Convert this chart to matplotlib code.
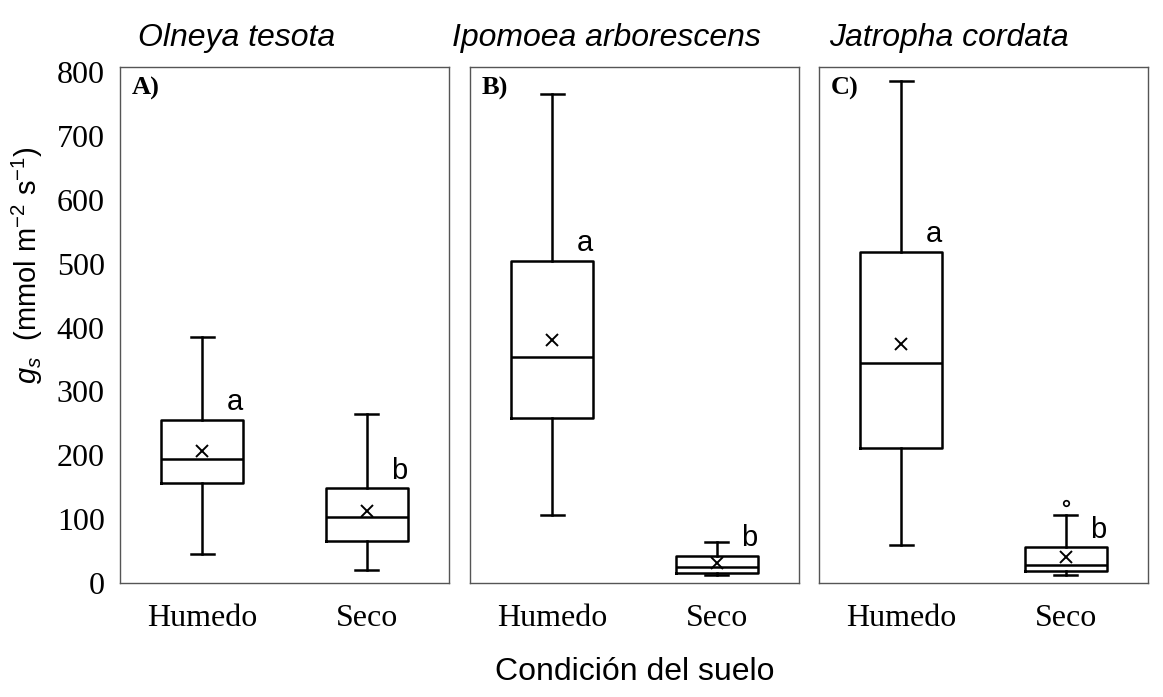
import matplotlib
matplotlib.use("Agg")
import matplotlib.pyplot as plt

plt.rcParams["mathtext.fontset"] = "custom"
plt.rcParams["mathtext.it"] = "Liberation Sans:italic"
plt.rcParams["mathtext.rm"] = "Liberation Sans"

# ---- data ----
species = ["Olneya tesota", "Ipomoea arborescens", "Jatropha cordata"]
panel_letters = ["A)", "B)", "C)"]
conditions = ["Humedo", "Seco"]

# per panel: [Humedo, Seco]
whislo = [[45, 20], [107, 13], [60, 13]]
q1 = [[157, 66], [259, 16], [211, 19]]
med = [[194, 104], [354, 25], [345, 28]]
mean = [[207, 113], [381, 31], [374, 41]]
q3 = [[255, 148], [505, 43], [518, 56]]
whishi = [[385, 265], [766, 64], [786, 106]]
fliers = [[[], []], [[], []], [[], [125]]]
letters = [["a", "b"], ["a", "b"], ["a", "b"]]

yticks = [0, 100, 200, 300, 400, 500, 600, 700, 800]

W, H = 1163, 697
fig = plt.figure(figsize=(W / 100, H / 100), dpi=100)

ax_left_px = [120, 470, 819]
ax_w_px = 329
top_px, bot_px = 67, 583
title_x_px = [138, 452, 829]

serif = "Liberation Serif"
sans = "Liberation Sans"

for i in range(3):
    ax = fig.add_axes([ax_left_px[i] / W, 1 - bot_px / H, ax_w_px / W, (bot_px - top_px) / H])
    stats = []
    for j in range(2):
        stats.append(dict(whislo=whislo[i][j], q1=q1[i][j], med=med[i][j],
                          q3=q3[i][j], whishi=whishi[i][j], mean=mean[i][j],
                          fliers=fliers[i][j], label=conditions[j]))
    lw = 1.8
    ax.bxp(stats, positions=[1, 2], widths=0.5, showmeans=True, showfliers=True,
           boxprops=dict(color="black", linewidth=lw),
           medianprops=dict(color="black", linewidth=lw),
           whiskerprops=dict(color="black", linewidth=lw),
           capprops=dict(color="black", linewidth=lw),
           capwidths=0.14,
           meanprops=dict(marker="x", markeredgecolor="black", markersize=8,
                          markeredgewidth=1.4, linestyle="none"),
           flierprops=dict(marker="o", markerfacecolor="none", markeredgecolor="black",
                           markersize=4, markeredgewidth=1.2))
    ax.set_xlim(0.5, 2.5)
    ax.set_ylim(0, 808)
    for s in ax.spines.values():
        s.set_color("#555555")
        s.set_linewidth(1.0)
    ax.tick_params(length=0, pad=12)
    ax.set_xticks([1, 2])
    ax.set_xticklabels(conditions, fontfamily=serif, fontsize=23)
    ax.tick_params(axis="x", pad=15)
    if i == 0:
        ax.set_yticks(yticks)
        ax.set_yticklabels([str(v) for v in yticks], fontfamily=serif, fontsize=23)
        ax.tick_params(axis="y", pad=11)
    else:
        ax.set_yticks([])
    # significance letters
    for j in range(2):
        ax.annotate(letters[i][j], xy=(j + 1 + 0.2, q3[i][j]), xytext=(0, 7),
                    textcoords="offset points", ha="center", va="baseline",
                    fontfamily=sans, fontsize=21)
    # panel letter
    ax.text(0.035, 0.98, panel_letters[i], transform=ax.transAxes, ha="left", va="top",
            fontfamily=serif, fontweight="bold", fontsize=19)
    # species title
    fig.text(title_x_px[i] / W, 1 - 38 / H, species[i], ha="left", va="center",
             fontfamily=sans, fontstyle="italic", fontsize=23)

fig.text(27 / W, 1 - 265 / H, r"$g_s$  (mmol m$^{\mathregular{-2}}$ s$^{\mathregular{-1}}$)",
         rotation=90, ha="center", va="center", fontfamily=sans, fontsize=21)

fig.text(635 / W, 1 - 672 / H, "Condición del suelo", ha="center", va="center",
         fontfamily=sans, fontsize=23)

fig.savefig("out.png", dpi=100, facecolor="white")
